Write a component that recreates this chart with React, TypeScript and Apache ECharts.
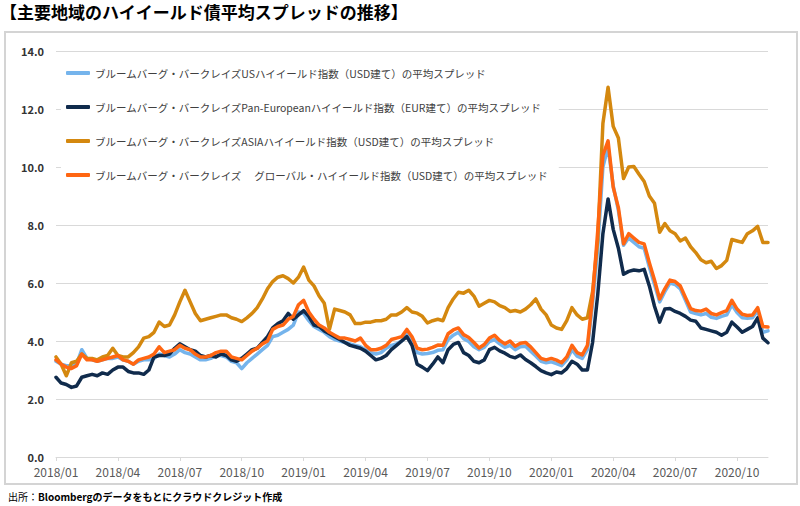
import { useEffect, useRef } from "react";
import * as echarts from "echarts";

const FONT = '"Noto Sans CJK JP", "Noto Sans", sans-serif';

const titleText = "【主要地域のハイイールド債平均スプレッドの推移】";
const sourceLabel = "出所：";
const sourceText = "Bloombergのデータをもとにクラウドクレジット作成";

// months covered by the data (4 weekly slots each, data ends mid-Nov 2020)
const monthLabels = [
  "2018/01", "2018/02", "2018/03", "2018/04", "2018/05", "2018/06", "2018/07", "2018/08", "2018/09", "2018/10", "2018/11", "2018/12",
  "2019/01", "2019/02", "2019/03", "2019/04", "2019/05", "2019/06", "2019/07", "2019/08", "2019/09", "2019/10", "2019/11", "2019/12",
  "2020/01", "2020/02", "2020/03", "2020/04", "2020/05", "2020/06", "2020/07", "2020/08", "2020/09", "2020/10", "2020/11",
];
const weekSlots = ["w1", "w2", "w3", "w4"];
const pointCount = 139;

const tickLabels = [
  "2018/01", "2018/04", "2018/07", "2018/10", "2019/01", "2019/04",
  "2019/07", "2019/10", "2020/01", "2020/04", "2020/07", "2020/10",
];

const seriesNames = [
  "ブルームバーグ・バークレイズUSハイイールド指数（USD建て）の平均スプレッド",
  "ブルームバーグ・バークレイズPan-Europeanハイイールド指数（EUR建て）の平均スプレッド",
  "ブルームバーグ・バークレイズASIAハイイールド指数（USD建て）の平均スプレッド",
  "ブルームバーグ・バークレイズ　 グローバル・ハイイールド指数（USD建て）の平均スプレッド",
];
const seriesColors = ["#75B4EC", "#102B4C", "#D4880F", "#FF6612"];

const usHY = [
  3.3, 3.2, 3.15, 3.15, 3.2, 3.7, 3.4, 3.35, 3.3, 3.35, 3.4, 3.4, 3.45, 3.35, 3.3, 3.2, 3.3, 3.35, 3.35, 3.4, 3.55, 3.5, 3.45, 3.55, 3.7, 3.6, 3.55, 3.45, 3.35, 3.35, 3.4, 3.5, 3.5, 3.45, 3.3, 3.25,
  3.05, 3.25, 3.4, 3.55, 3.7, 3.85, 4.15, 4.2, 4.3, 4.4, 4.55, 5.0, 4.95, 4.7, 4.5, 4.4, 4.3, 4.15, 4.05, 4.0, 3.95, 3.9, 3.85, 3.8, 3.7, 3.6, 3.55, 3.6, 3.75, 3.85, 3.9, 4.0, 4.25, 3.95,
  3.6, 3.55, 3.57, 3.6, 3.68, 3.7, 4.05, 4.2, 4.3, 4.08, 3.98, 3.8, 3.7, 3.78, 3.98, 4.05, 3.9, 3.78, 3.85, 3.7, 3.8, 3.82, 3.65, 3.48, 3.3, 3.25, 3.28, 3.22, 3.15, 3.35, 3.7, 3.48, 3.4, 3.7,
  5.3, 7.2, 10.0, 10.7, 9.35, 8.5, 7.3, 7.55, 7.4, 7.25, 7.2, 6.55, 5.95, 5.35, 5.7, 6.0, 5.95, 5.8, 5.4, 5.0, 4.95, 4.9, 4.95, 4.82, 4.78, 4.85, 4.9, 5.25, 4.98, 4.8, 4.78, 4.8, 5.05, 4.3, 4.35,
];

const euroHY = [
  2.75, 2.55, 2.5, 2.4, 2.45, 2.75, 2.8, 2.85, 2.8, 2.9, 2.85, 3.0, 3.1, 3.1, 2.95, 2.9, 2.9, 2.85, 3.0, 3.45, 3.5, 3.5, 3.55, 3.75, 3.9, 3.8, 3.7, 3.65, 3.5, 3.45, 3.5, 3.45, 3.55, 3.5, 3.35, 3.3,
  3.4, 3.55, 3.7, 3.75, 3.95, 4.15, 4.45, 4.6, 4.7, 4.95, 4.75, 4.9, 5.05, 4.85, 4.55, 4.5, 4.35, 4.25, 4.15, 4.05, 3.95, 3.85, 3.8, 3.75, 3.65, 3.5, 3.35, 3.4, 3.5, 3.7, 3.85, 4.0, 4.15, 3.85,
  3.2, 3.1, 2.98, 3.2, 3.45, 3.25, 3.7, 3.88, 3.95, 3.6, 3.5, 3.3, 3.25, 3.35, 3.7, 3.78, 3.66, 3.58, 3.47, 3.42, 3.52, 3.36, 3.25, 3.12, 2.98, 2.9, 2.84, 2.93, 2.9, 3.05, 3.3, 3.2, 3.0, 3.0,
  3.95, 5.6, 7.7, 8.9, 7.85, 7.2, 6.3, 6.4, 6.45, 6.42, 6.47, 5.9, 5.2, 4.65, 5.1, 5.12, 5.02, 4.95, 4.85, 4.72, 4.68, 4.45, 4.4, 4.35, 4.3, 4.2, 4.3, 4.65, 4.48, 4.3, 4.4, 4.5, 4.8, 4.1, 3.94,
];

const asiaHY = [
  3.45, 3.2, 2.8, 3.25, 3.3, 3.55, 3.4, 3.4, 3.35, 3.45, 3.5, 3.75, 3.5, 3.45, 3.45, 3.6, 3.8, 4.1, 4.15, 4.3, 4.65, 4.5, 4.55, 4.9, 5.35, 5.75, 5.35, 4.95, 4.7, 4.75, 4.8, 4.85, 4.9, 4.9, 4.8, 4.75,
  4.67, 4.8, 4.95, 5.15, 5.45, 5.8, 6.05, 6.2, 6.25, 6.15, 6.0, 6.2, 6.55, 6.1, 5.9, 5.55, 5.3, 4.4, 5.1, 5.05, 5.0, 4.9, 4.6, 4.6, 4.65, 4.65, 4.7, 4.7, 4.75, 4.9, 4.9, 5.0, 5.15, 5.0,
  4.96, 4.85, 4.62, 4.7, 4.75, 4.7, 5.15, 5.45, 5.68, 5.65, 5.75, 5.55, 5.2, 5.3, 5.4, 5.35, 5.22, 5.15, 5.02, 5.05, 5.0, 5.1, 5.25, 5.45, 5.1, 4.9, 4.55, 4.45, 4.4, 4.7, 5.15, 4.9, 4.75, 4.8,
  5.7, 7.5, 11.5, 12.75, 11.4, 11.0, 9.6, 10.0, 10.02, 9.75, 9.5, 9.0, 8.75, 7.75, 8.05, 7.8, 7.7, 7.45, 7.55, 7.25, 7.05, 6.8, 6.7, 6.75, 6.5, 6.6, 6.78, 7.5, 7.45, 7.4, 7.7, 7.8, 7.95, 7.4, 7.4,
];

const globalHY = [
  3.35, 3.2, 3.1, 3.05, 3.15, 3.55, 3.35, 3.35, 3.3, 3.35, 3.4, 3.45, 3.5, 3.35, 3.3, 3.2, 3.35, 3.4, 3.45, 3.55, 3.8, 3.6, 3.65, 3.7, 3.85, 3.75, 3.7, 3.55, 3.45, 3.45, 3.5, 3.6, 3.65, 3.65, 3.45, 3.4,
  3.35, 3.5, 3.65, 3.75, 3.9, 4.0, 4.4, 4.5, 4.55, 4.75, 4.85, 5.25, 5.4, 5.0, 4.75, 4.55, 4.45, 4.3, 4.2, 4.1, 4.1, 4.05, 4.0, 4.1, 3.85, 3.7, 3.7, 3.75, 3.85, 4.05, 4.1, 4.15, 4.4, 4.15,
  3.75, 3.7, 3.72, 3.78, 3.86, 3.85, 4.25, 4.38, 4.45, 4.22, 4.12, 3.95, 3.76, 3.88, 4.1, 4.2, 4.02, 3.9, 4.0, 3.82, 3.92, 3.95, 3.8, 3.6, 3.4, 3.35, 3.4, 3.34, 3.25, 3.45, 3.85, 3.6, 3.52, 3.85,
  5.5, 7.8, 10.4, 10.9, 9.3, 8.6, 7.35, 7.7, 7.55, 7.4, 7.35, 6.7, 6.1, 5.45, 5.8, 6.1, 6.05, 5.9, 5.5, 5.12, 5.05, 5.03, 5.1, 4.95, 4.9, 4.98, 5.05, 5.4, 5.1, 4.92, 4.88, 4.9, 5.15, 4.5, 4.48,
];

const seriesData = [usHY, euroHY, asiaHY, globalHY];

const categories = monthLabels
  .flatMap((m) => weekSlots.map((w) => `${m} ${w}`))
  .slice(0, pointCount);

export default function App() {
  const ref = useRef<HTMLDivElement>(null);

  useEffect(() => {
    if (!ref.current) return;
    const chart = echarts.init(ref.current, null, { renderer: "svg" });
    chart.setOption({
      animation: false,
      backgroundColor: "#ffffff",
      textStyle: { fontFamily: FONT },
      title: {
        text: titleText,
        left: 0,
        top: 3,
        padding: 0,
        textStyle: { fontSize: 17, fontWeight: "bold", color: "#000", fontFamily: FONT },
      },
      graphic: [
        {
          type: "rect",
          shape: { x: 5, y: 32, width: 792, height: 452 },
          style: { fill: "none", stroke: "#d4d4d4", lineWidth: 2 },
          z: -1,
          silent: true,
        },
        {
          type: "text",
          left: 8,
          top: 491,
          style: {
            text: `{a|${sourceLabel}}{b|${sourceText}}`,
            rich: {
              a: { fontSize: 10, color: "#555", fontFamily: FONT },
              b: { fontSize: 10, color: "#222", fontWeight: "bold", fontFamily: FONT },
            },
          },
        },
      ],
      legend: {
        orient: "vertical",
        left: 61,
        top: 61,
        itemWidth: 24,
        itemHeight: 4,
        itemGap: 20,
        icon: "roundRect",
        backgroundColor: "#ffffff",
        padding: [5, 10, 5, 5],
        textStyle: { fontSize: 10.5, color: "#404040", lineHeight: 14, fontFamily: FONT },
        data: seriesNames,
      },
      grid: { left: 56, right: 32, top: 51, bottom: 49 },
      xAxis: {
        type: "category",
        data: categories,
        boundaryGap: false,
        axisLine: { lineStyle: { color: "#d9d9d9", width: 1 } },
        axisTick: { show: true, interval: 11, length: 4, lineStyle: { color: "#d9d9d9" } },
        axisLabel: {
          interval: 11,
          margin: 8,
          fontSize: 12,
          color: "#595959",
          fontFamily: FONT,
          formatter: (_v: string, i: number) => (i % 12 === 0 ? tickLabels[i / 12] ?? "" : ""),
        },
        splitLine: { show: false },
      },
      yAxis: {
        type: "value",
        min: 0,
        max: 14,
        interval: 2,
        axisLine: { show: false },
        axisTick: { show: false },
        axisLabel: {
          margin: 12,
          fontSize: 11,
          color: "#333",
          fontWeight: "bold",
          fontFamily: FONT,
          formatter: (v: number) => v.toFixed(1),
        },
        splitLine: { lineStyle: { color: "#d9d9d9", width: 1 } },
      },
      series: seriesNames.map((name, i) => ({
        name,
        type: "line",
        data: seriesData[i],
        showSymbol: false,
        symbol: "none",
        color: seriesColors[i],
        lineStyle: { width: 3.5, color: seriesColors[i], join: "round", cap: "round" },
        emphasis: { disabled: true },
      })),
    });
    return () => chart.dispose();
  }, []);

  return (
    <div
      ref={ref}
      style={{ position: "fixed", left: 0, top: 0, width: 800, height: 506, background: "#fff" }}
    />
  );
}
